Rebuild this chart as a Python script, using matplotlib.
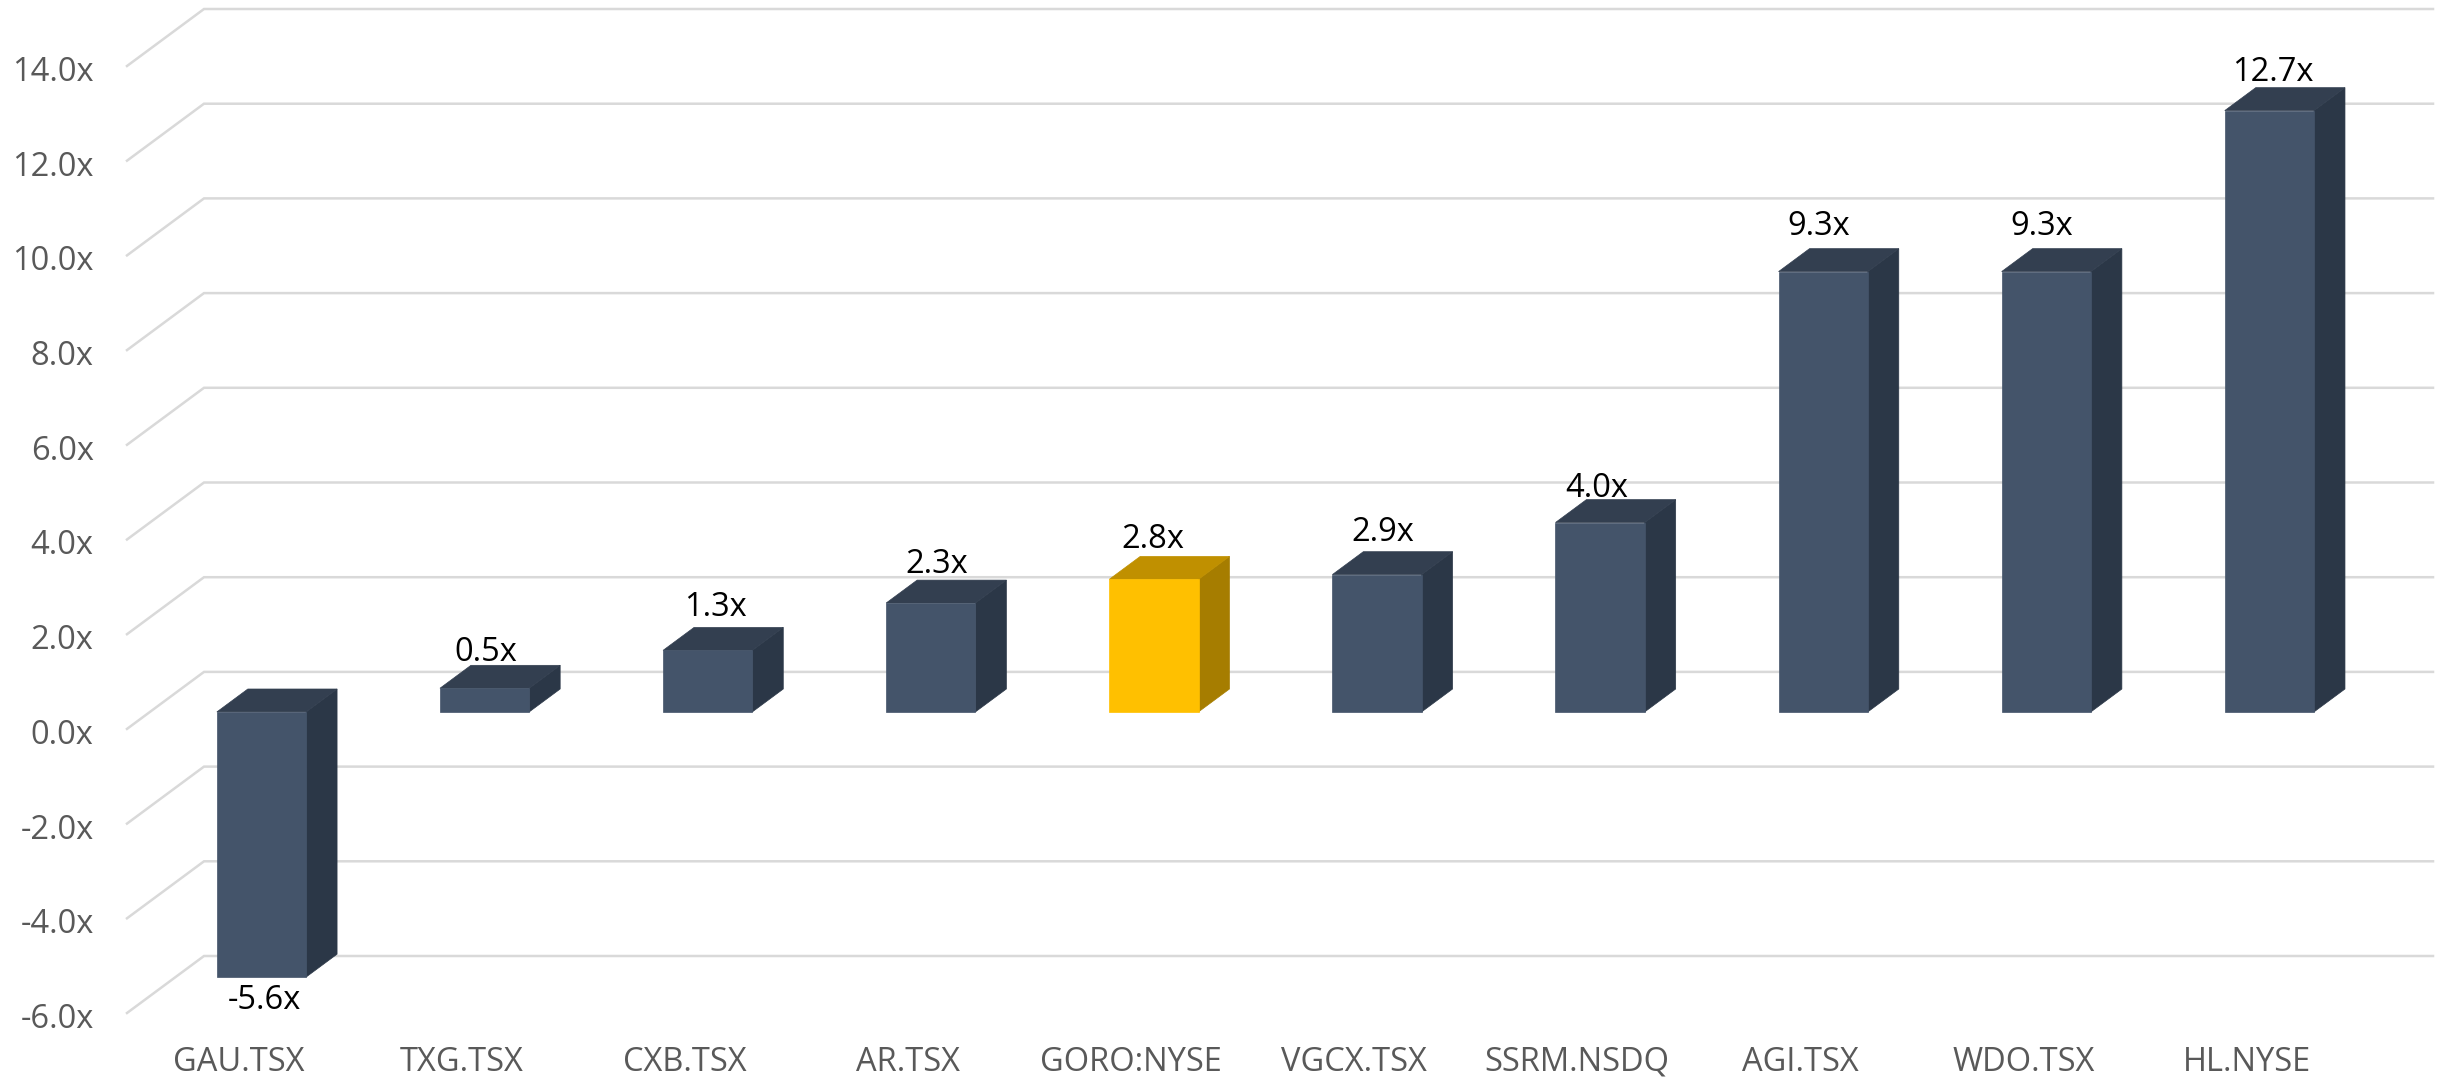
import matplotlib
matplotlib.use("Agg")
import matplotlib.pyplot as plt
from matplotlib.patches import Polygon
from matplotlib.ticker import FuncFormatter
from matplotlib.transforms import ScaledTranslation

tickers = ["GAU.TSX", "TXG.TSX", "CXB.TSX", "AR.TSX", "GORO:NYSE",
           "VGCX.TSX", "SSRM.NSDQ", "AGI.TSX", "WDO.TSX", "HL.NYSE"]
values = [-5.6, 0.5, 1.3, 2.3, 2.8, 2.9, 4.0, 9.3, 9.3, 12.7]
highlight = "GORO:NYSE"
y_ticks = list(range(-6, 15, 2))

# label nudges, pixels
nudge_x = [3, 1, 8, 6, -1, 6, -3, -4, -5, 3]
gap_y = [17, 13, 20, 16, 17, 19, 11, 22, 22, 15]

W, H = 2453, 1080
L, R, T, B = 127, 2358, 66, 1013
plt.rcParams["font.family"] = ["Open Sans", "DejaVu Sans"]
FS = 23.5

fig = plt.figure(figsize=(W / 100, H / 100), dpi=100, facecolor="white")
ax = fig.add_axes([L / W, 1 - B / H, (R - L) / W, (B - T) / H])
ax.set_xlim(-0.5, 9.5)
ax.set_ylim(-6, 14)
for s in ax.spines.values():
    s.set_visible(False)
ax.patch.set_alpha(0)

px_x = 10 / (R - L)
px_y = 20 / (B - T)
DX, DY = 77 * px_x, 57 * px_y
D0, D1 = 0.298, 0.70
HALF = 0.2


def P(x, v, d):
    return (x + d * DX, v + d * DY)


ax.set_xticks(range(len(tickers)), tickers)
ax.set_yticks(y_ticks)
ax.yaxis.set_major_formatter(FuncFormatter(lambda v, _: f"{v:.1f}x"))
ax.tick_params(axis="both", length=0, labelcolor="#595959", labelsize=FS)
ax.tick_params(axis="y", pad=24)
ax.tick_params(axis="x", pad=23.5)
shift = ScaledTranslation(0, -2.5 / 100, fig.dpi_scale_trans)
for lab in ax.get_yticklabels():
    lab.set_transform(lab.get_transform() + shift)

right_end = 9.5 + DX - 2 * px_x
for v in y_ticks:
    ax.plot([-0.5, -0.5 + DX, right_end], [v, v + DY, v + DY], color="#D9D9D9",
            lw=1.8, clip_on=False, zorder=1, solid_joinstyle="miter")

for i, (name, val) in enumerate(zip(tickers, values)):
    if name == highlight:
        front, top, side = "#FFC000", "#C09000", "#A67D00"
    else:
        front, top, side = "#44546A", "#333F50", "#2B3747"
    x0, x1 = i - HALF, i + HALF
    hi, lo = max(val, 0), min(val, 0)
    faces = [
        ([P(x1, lo, D0), P(x1, lo, D1), P(x1, hi, D1), P(x1, hi, D0)], side),
        ([P(x0, hi, D0), P(x0, hi, D1), P(x1, hi, D1), P(x1, hi, D0)], top),
        ([P(x0, lo, D0), P(x1, lo, D0), P(x1, hi, D0), P(x0, hi, D0)], front),
    ]
    for pts, col in faces:
        ax.add_patch(Polygon(pts, closed=True, facecolor=col, edgecolor=col,
                             lw=0.5, clip_on=False, zorder=3))
    if val >= 0:
        anchor = (P(i, val, D0)[0], P(i, val, D1)[1])
        off = (nudge_x[i] * 0.72, gap_y[i] * 0.72)
    else:
        anchor = P(i, val, D0)
        off = (nudge_x[i] * 0.72, -(gap_y[i] + 6) * 0.72)
    ax.annotate(f"{val:.1f}x", xy=anchor, xytext=off, textcoords="offset points",
                ha="center", va="center", fontsize=FS, color="black",
                annotation_clip=False, zorder=4)

fig.savefig("out.png", dpi=100, facecolor="white")
